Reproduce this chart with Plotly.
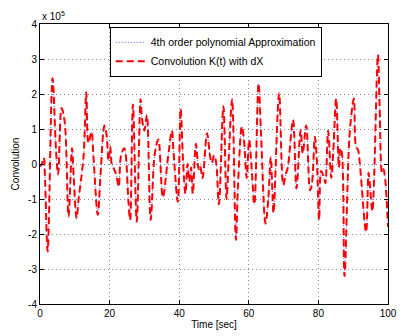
import plotly.graph_objects as go

time_sec = [0.0, 0.3, 1.1, 1.4, 2.2, 3.6, 4.6, 5.2, 6.2, 7.1, 8.2, 9.2, 9.7, 10.5, 11.1, 12.5, 13.3, 13.9,
            14.8, 15.3, 16.6, 17.4, 18.5, 19.1, 19.7, 20.2, 20.6, 21.3, 22.0, 22.6, 23.3, 24.2, 24.6, 25.4,
            25.9, 26.7, 27.8, 28.9, 29.3, 30.0, 30.7, 31.8, 33.0, 34.0, 35.3, 36.8, 37.9, 38.4, 39.6, 40.4,
            41.1, 41.8, 42.4, 42.9, 43.4, 43.9, 44.8, 45.6, 46.0, 46.7, 48.0, 48.9, 49.4, 50.0, 50.6, 51.4,
            52.7, 53.6, 54.2, 55.2, 56.3, 56.9, 58.0, 58.6, 59.4, 60.1, 60.8, 61.6, 62.8, 63.5, 64.8, 65.6,
            66.3, 66.7, 67.1, 68.7, 69.9, 70.6, 71.2, 72.7, 73.7, 74.9, 75.5, 76.5, 77.6, 78.1, 79.0, 79.6,
            80.2, 80.8, 81.6, 82.0, 82.8, 83.7, 84.3, 85.1, 85.9, 86.3, 86.7, 87.5, 89.0, 90.2, 90.8, 91.4,
            92.0, 93.7, 94.4, 94.8, 95.5, 97.1, 97.6, 98.3, 98.7, 99.2, 100.0]

# convolution values (units of 1e5)
convolution = [0.0, -0.05, 0.18, -0.3, -2.5, 2.45, 0.4, -0.3, 1.6, 1.2, -1.5, 0.45, -0.4, -1.55, -1.0, 0.2, 2.05, 0.6,
               0.92, 0.3, -1.45, -0.3, 1.1, 0.85, 0.1, 0.5, 0.0, -0.15, -0.35, -0.65, 0.25, 0.45, 0.3, -1.05,
               -1.6, 1.7, -1.65, 1.85, 1.3, 0.95, 1.4, -1.6, 0.3, 0.7, -0.95, 0.2, 0.95, 0.3, -1.08, 1.58,
               0.1, -0.85, 0.0, -0.5, -0.1, -0.85, 0.58, -0.15, -0.05, -0.4, 0.88, 0.2, 0.03, 0.25, 0.05, -1.15,
               1.65, -1.0, 0.1, 1.85, -2.17, -0.6, 1.07, 0.7, -0.4, 0.69, -0.1, -1.15, 2.3, 0.9, -1.7, -1.0,
               0.2, -0.6, -1.4, 2.02, -0.6, -0.3, -0.1, 1.26, -0.7, 0.97, 0.3, 1.1, -0.75, -0.6, 0.78, 0.0,
               -1.6, -0.2, -0.4, -0.55, 0.95, -0.4, 0.4, 1.87, -0.1, 0.45, 0.35, -3.2, 0.9, 1.87, 0.5, 0.4,
               -0.1, -1.95, -0.25, -0.6, -1.35, 3.12, 1.6, -0.25, -0.15, -0.45, -1.8]

# 4th order polynomial approximation (visually identical to the convolution)
approximation = list(convolution)

x_ticks = [0, 20, 40, 60, 80, 100]
y_ticks = [-4, -3, -2, -1, 0, 1, 2, 3, 4]

FONT = "Liberation Sans, Arial, Helvetica, sans-serif"

fig = go.Figure()
fig.add_trace(go.Scatter(
    x=time_sec, y=approximation, mode="lines", line_shape="spline",
    name="4th order polynomial Approximation",
    line=dict(color="#5555ff", width=1, dash="1px,2px"),
))
fig.add_trace(go.Scatter(
    x=time_sec, y=convolution, mode="lines", line_shape="spline",
    name="Convolution K(t) with dX",
    line=dict(color="#ff0000", width=2, dash="7px,4px"),
))

axis_common = dict(
    showline=True, linecolor="black", linewidth=1, mirror="ticks",
    ticks="inside", ticklen=4, tickcolor="black",
    showgrid=True, gridcolor="#8a8a8a", griddash="1px,3px", gridwidth=1,
    zeroline=False, tickfont=dict(family=FONT, size=10, color="black"),
    ticklabeloverflow="allow",
)

fig.update_layout(
    width=405, height=336,
    margin=dict(l=40, r=8, t=24, b=32),
    paper_bgcolor="white", plot_bgcolor="white",
    font=dict(family=FONT, size=10, color="black"),
    showlegend=True,
    legend=dict(
        x=0.505, xanchor="center", y=0.99, yanchor="top",
        bgcolor="white", bordercolor="black", borderwidth=1,
        font=dict(family=FONT, size=10.5, color="black"),
        tracegroupgap=0, itemwidth=30,
    ),
    xaxis=dict(range=[0, 100], tickvals=x_ticks, **axis_common,
               title=dict(text="Time [sec]", font=dict(family=FONT, size=10), standoff=2)),
    yaxis=dict(range=[-4, 4], tickvals=y_ticks, ticktext=[str(v) for v in y_ticks], **axis_common,
               title=dict(text="Convolution", font=dict(family=FONT, size=10), standoff=6)),
    annotations=[dict(
        text="x 10<sup>5</sup>", xref="paper", yref="paper", x=0, y=1.0,
        xanchor="left", yanchor="bottom", showarrow=False,
        font=dict(family=FONT, size=10, color="black"),
    )],
)

fig.write_html("out.html")
